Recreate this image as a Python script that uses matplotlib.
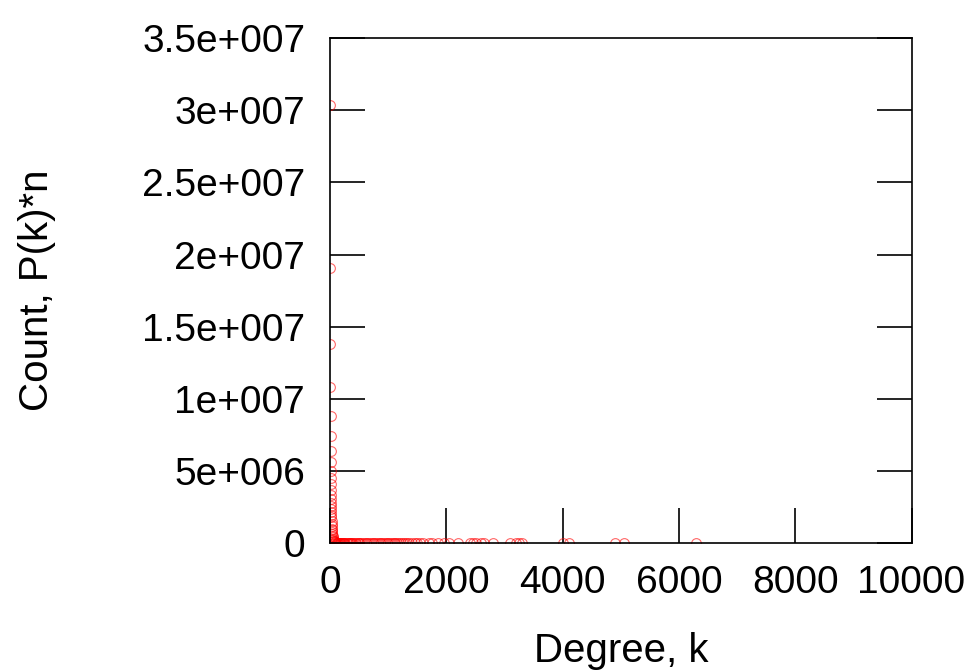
import matplotlib.pyplot as plt

plt.rcParams['font.family'] = ['Liberation Sans', 'DejaVu Sans']

# head of the degree distribution (degree, count)
head_k = [1, 2, 3, 4, 5, 6, 7, 8, 9, 10, 11, 12, 13, 14, 15, 16, 17, 18, 19, 20,
          22, 24, 26, 28, 30, 33, 36, 40, 45, 50, 55, 60, 70, 80, 90, 100]
head_n = [3.04e7, 1.91e7, 1.38e7, 1.08e7, 8.8e6, 7.45e6, 6.35e6, 5.6e6, 5.0e6, 4.5e6,
          4.1e6, 3.7e6, 3.35e6, 3.05e6, 2.8e6, 2.55e6, 2.35e6, 2.15e6, 1.95e6, 1.8e6,
          1.55e6, 1.35e6, 1.15e6, 1.0e6, 8.8e5, 7.4e5, 6.2e5, 5.0e5, 3.8e5, 2.9e5,
          2.2e5, 1.7e5, 1.1e5, 7.0e4, 4.5e4, 3.0e4]
# long tail, small counts
tail_k = [110, 120, 130, 140, 150, 160, 170, 185, 200, 215, 230, 245, 260, 280, 300,
          320, 340, 360, 380, 400, 420, 445, 470, 495, 520, 550, 580, 610, 640, 670,
          700, 730, 760, 790, 820, 850, 880, 910, 940, 970, 1000, 1030, 1060, 1090,
          1120, 1150, 1180, 1210, 1250, 1290, 1320, 1360, 1400, 1450, 1500, 1550,
          1600, 1700, 1750, 1850, 1950, 2050, 2200, 2400, 2450, 2500, 2600, 2650,
          2800, 3100, 3200, 3250, 3300, 4000, 4100, 4900, 5050, 6300]
tail_n = [2.0e4, 1.6e4, 1.3e4, 1.1e4, 9.0e3, 7.5e3, 6.0e3, 5.0e3, 4.0e3, 3.3e3, 2.6e3,
          2.2e3, 1.8e3, 1.5e3, 1.2e3, 1.0e3, 800, 650, 550, 470, 400, 330, 280, 240,
          200, 170, 140, 120, 100, 85, 70, 60, 50, 42, 35, 30, 25, 21, 18, 15, 12, 10,
          9, 8, 7, 6, 5, 5, 4, 4, 3, 3, 3, 2, 2, 2, 2, 2, 1, 1, 1, 1, 1, 1, 1, 1, 1,
          1, 1, 1, 1, 1, 1, 1, 1, 1, 1, 1]

yticks = [0, 5e6, 1e7, 1.5e7, 2e7, 2.5e7, 3e7, 3.5e7]
ytick_labels = ['0', '5e+006', '1e+007', '1.5e+007', '2e+007', '2.5e+007', '3e+007', '3.5e+007']
xticks = [0, 2000, 4000, 6000, 8000, 10000]

fig = plt.figure(figsize=(9.77, 6.72), dpi=100)
ax = fig.add_axes([0.338, 0.192, 0.595, 0.751])

ax.plot(head_k + tail_k, head_n + tail_n, linestyle='none', marker='o', markersize=7,
        markerfacecolor='none', markeredgecolor='red', markeredgewidth=0.8, alpha=0.6)

ax.set_xlim(0, 10000)
ax.set_ylim(0, 3.5e7)
ax.set_xticks(xticks)
ax.set_xticklabels([str(t) for t in xticks])
ax.set_yticks(yticks)
ax.set_yticklabels(ytick_labels)
ax.tick_params(axis='y', direction='in', length=25, width=1.2, labelsize=28, pad=18,
               right=True)
ax.tick_params(axis='x', direction='in', length=25, width=1.2, labelsize=28, pad=16,
               top=False)
for s in ax.spines.values():
    s.set_linewidth(1.2)

ax.set_xlabel('Degree, k', fontsize=29, labelpad=22)
ax.set_ylabel('Count, P(k)*n', fontsize=29, labelpad=62)

plt.savefig('out.png')
